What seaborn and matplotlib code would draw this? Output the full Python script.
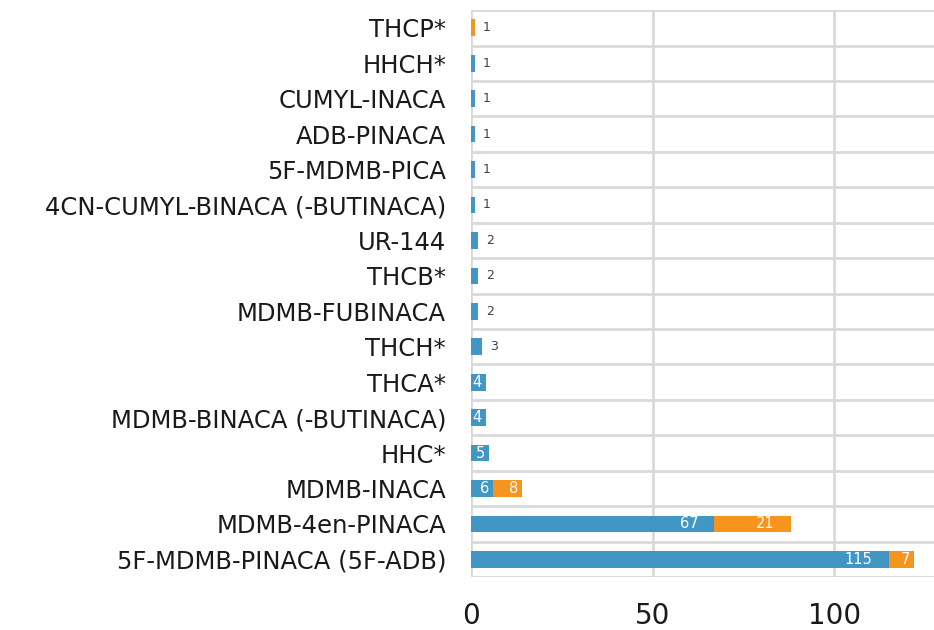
import numpy as np
import pandas as pd
import matplotlib
matplotlib.use("Agg")
import matplotlib.pyplot as plt
import seaborn as sns
from matplotlib.ticker import FixedLocator

substances = ["THCP*", "HHCH*", "CUMYL-INACA", "ADB-PINACA", "5F-MDMB-PICA",
              "4CN-CUMYL-BINACA (-BUTINACA)", "UR-144", "THCB*", "MDMB-FUBINACA",
              "THCH*", "THCA*", "MDMB-BINACA (-BUTINACA)", "HHC*", "MDMB-INACA",
              "MDMB-4en-PINACA", "5F-MDMB-PINACA (5F-ADB)"]
blue_vals = [0, 1, 1, 1, 1, 1, 2, 2, 2, 3, 4, 4, 5, 6, 67, 115]
orange_vals = [1, 0, 0, 0, 0, 0, 0, 0, 0, 0, 0, 0, 0, 8, 21, 7]

BLUE = "#4196c4"
ORANGE = "#f7941d"
GRID = "#d9d9d9"

df = pd.DataFrame({"substance": substances, "blue": blue_vals, "orange": orange_vals})
df["total"] = df["blue"] + df["orange"]

sns.set_style("white")
plt.rcParams["font.family"] = ["DejaVu Sans"]

fig = plt.figure(figsize=(9.34, 6.3), dpi=100)
ax = fig.add_axes([0.5043, 0.084, 0.4957, 0.9])

# stacked: total (orange) first, then blue over it
sns.barplot(data=df, y="substance", x="total", color=ORANGE, orient="h",
            width=0.47, saturation=1, linewidth=0, ax=ax, zorder=3)
sns.barplot(data=df, y="substance", x="blue", color=BLUE, orient="h",
            width=0.47, saturation=1, linewidth=0, ax=ax, zorder=3)

ax.set_xlim(0, 127.5)
ax.set_ylim(15.5, -0.5)
ax.set_xlabel("")
ax.set_ylabel("")
ax.set_xticks([0, 50, 100])
ax.yaxis.set_minor_locator(FixedLocator(np.arange(-0.5, 16, 1)))
ax.grid(False)
ax.grid(axis="x", which="major", color=GRID, lw=2, zorder=0)
ax.grid(axis="y", which="minor", color=GRID, lw=2, zorder=0)
for s in ax.spines.values():
    s.set_visible(False)
ax.tick_params(axis="y", which="both", length=0, pad=18, labelsize=17.5, labelcolor="#1a1a1a")
ax.tick_params(axis="x", length=0, pad=18, labelsize=20, labelcolor="#1a1a1a")

# value labels
px = 127.5 / (0.4957 * 934)
for i, (b, o) in enumerate(zip(blue_vals, orange_vals)):
    segs = [(0, b), (b, o)]
    for start, v in segs:
        if v == 0:
            continue
        end = start + v
        if v <= 3:
            ax.text(end + 8 * px, i, str(v), ha="left", va="center",
                    fontsize=9, color="#404040", zorder=4)
        else:
            off = 16 if v >= 10 else 4
            ax.text(end - off * px, i, str(v), ha="right", va="center",
                    fontsize=10.5, color="white", zorder=4)

fig.savefig("out.png", dpi=100)
